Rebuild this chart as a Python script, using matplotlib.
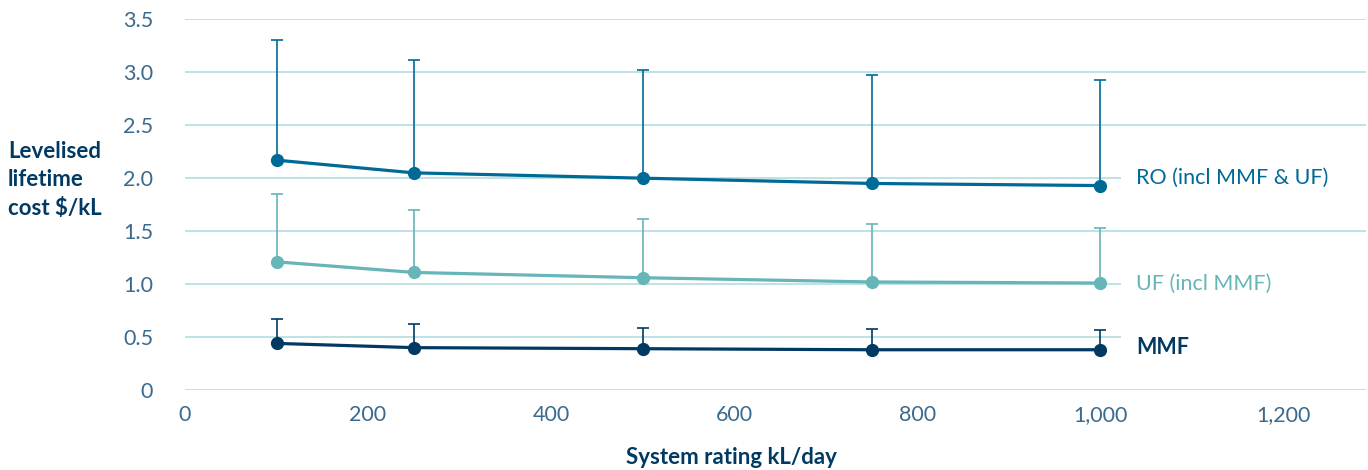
# システム規模別 ライフタイムコストのグラフ (RO / UF / MMF)
import numpy as np
import matplotlib.pyplot as plt
from matplotlib.patches import Rectangle

# データ
x_rating = [100, 250, 500, 750, 1000]  # kL/day
ro_cost = [2.17, 2.05, 2.00, 1.95, 1.93]
ro_high = [3.30, 3.12, 3.02, 2.97, 2.93]
uf_cost = [1.21, 1.11, 1.06, 1.02, 1.01]
uf_high = [1.85, 1.70, 1.61, 1.57, 1.53]
mmf_cost = [0.44, 0.40, 0.39, 0.38, 0.38]
mmf_high = [0.67, 0.62, 0.59, 0.58, 0.57]

series_names = ["RO (incl MMF & UF)", "UF (incl MMF)", "MMF"]
label_y = [2.0, 1.0, 0.40]

x_ticks = [0, 200, 400, 600, 800, 1000, 1200]
x_ticklabels = ["0", "200", "400", "600", "800", "1,000", "1,200"]
y_ticks = [0, 0.5, 1.0, 1.5, 2.0, 2.5, 3.0, 3.5]
y_ticklabels = ["0", "0.5", "1.0", "1.5", "2.0", "2.5", "3.0", "3.5"]

c_ro = "#006a96"
c_uf = "#66b5b8"
c_mmf = "#003a63"
c_tick = "#3a6a8e"
c_grid = "#b9e0e3"

plt.rcParams['font.family'] = ['Lato', 'DejaVu Sans']

fig = plt.figure(figsize=(13.68, 4.70), dpi=100)
ax = fig.add_axes([0.1352, 0.1702, 0.8633, 0.7888])

ax.set_xlim(0, 1290)
ax.set_ylim(0, 3.5)
ax.set_axisbelow(True)
ax.yaxis.grid(True, color=c_grid, linewidth=1.3)
for s in ax.spines.values():
    s.set_visible(False)

# 系列ごとにプロット (上側のみのエラーバー)
for cost, high, col in [(ro_cost, ro_high, c_ro), (uf_cost, uf_high, c_uf), (mmf_cost, mmf_high, c_mmf)]:
    cost = np.array(cost)
    err = np.array(high) - cost
    ax.errorbar(x_rating, cost, yerr=[np.zeros_like(err), err], fmt="none",
                ecolor=col, elinewidth=1.2, capsize=4.5, capthick=1.2, zorder=2)
    ax.plot(x_rating, cost, "-o", color=col, linewidth=2.3, markersize=8.5, zorder=3)

# ラベルの背景 (グリッドを隠す)
for yy in label_y:
    ax.add_patch(Rectangle((1022, yy - 0.12), 300, 0.24, facecolor="white",
                           edgecolor="none", zorder=1))

ax.text(1039, label_y[0], series_names[0], color=c_ro, fontsize=15.5, va="center", ha="left", zorder=4)
ax.text(1039, label_y[1], series_names[1], color=c_uf, fontsize=15.5, va="center", ha="left", zorder=4)
ax.text(1039, label_y[2], series_names[2], color=c_mmf, fontsize=15.5, fontweight="bold",
        va="center", ha="left", zorder=4)

ax.set_xticks(x_ticks)
ax.set_xticklabels(x_ticklabels)
ax.set_yticks(y_ticks)
ax.set_yticklabels(y_ticklabels)
ax.tick_params(axis="both", length=0, labelsize=15.5, labelcolor=c_tick)
ax.tick_params(axis="y", pad=23)
ax.tick_params(axis="x", pad=11)

fig.text(8 / 1368, 1 - 180 / 470, "Levelised\nlifetime\ncost $/kL", color=c_mmf, fontsize=16,
         fontweight="bold", ha="left", va="center", linespacing=1.45)
fig.text(731 / 1368, 1 - 458 / 470, "System rating kL/day", color=c_mmf, fontsize=16,
         fontweight="bold", ha="center", va="center")

fig.savefig("out.png", dpi=100)
